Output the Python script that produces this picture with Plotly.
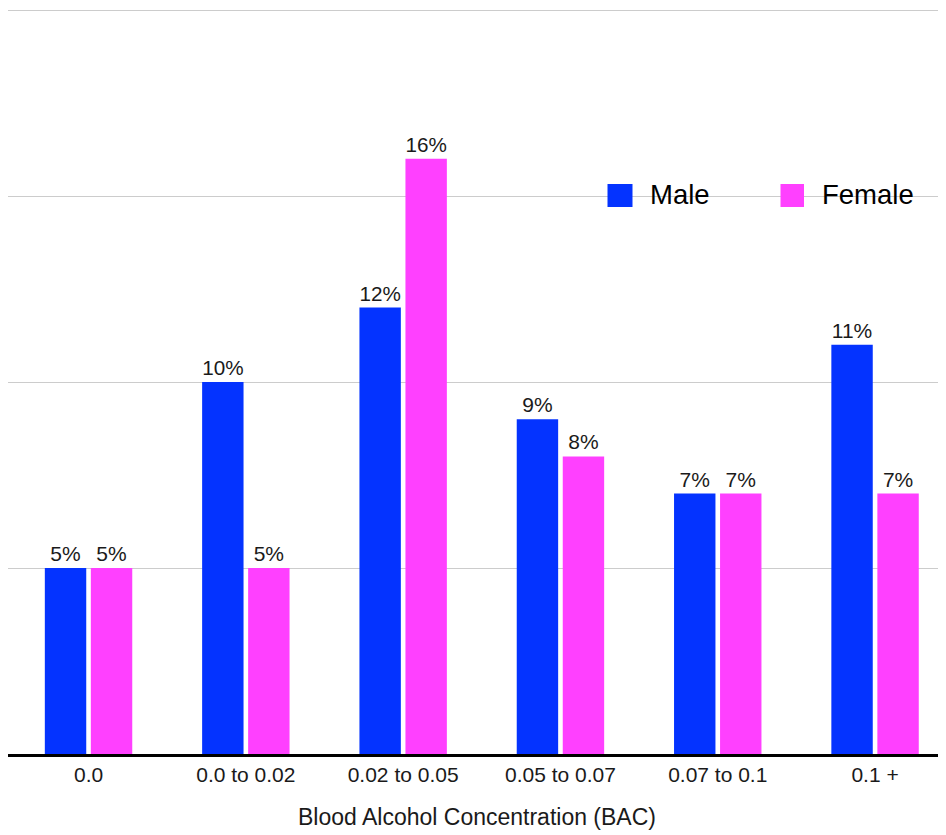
import plotly.graph_objects as go

categories = ["0.0", "0.0 to 0.02", "0.02 to 0.05", "0.05 to 0.07", "0.07 to 0.1", "0.1 +"]
series_names = ["Male", "Female"]
male = [5, 10, 12, 9, 7, 11]
female = [5, 5, 16, 8, 7, 7]
colors = ["#0433ff", "#ff40ff"]
x_title = "Blood Alcohol Concentration (BAC)"

FONT = "Liberation Sans, Arial, Helvetica, sans-serif"

fig = go.Figure()
for name, vals, col in zip(series_names, [male, female], colors):
    fig.add_trace(go.Bar(
        x=categories, y=vals, name=name,
        marker=dict(color=col, line=dict(width=0)),
        texttemplate="%{y}%", textposition="outside",
        textfont=dict(size=21, color="#1a1a1a", family=FONT),
        cliponaxis=False, showlegend=False,
    ))

# page has an 8px body margin; figure is sized to fit the window
PAGE = 8
W0, W1 = 8, 946
T0, B0 = 8, 754
def px(x):
    return (x - W0) / (W1 - W0)
def py(y):
    return (B0 - y) / (B0 - T0)

shapes = []
annotations = []
legend_pos = [(607.5, 632.5, 649), (780.5, 804, 821)]
for (x0, x1, tx), name, col in zip(legend_pos, series_names, colors):
    shapes.append(dict(type="rect", xref="paper", yref="paper",
                       x0=px(x0), x1=px(x1), y0=py(207), y1=py(184),
                       fillcolor=col, line=dict(width=0), layer="above"))
    annotations.append(dict(xref="paper", yref="paper", x=px(tx), y=py(195),
                            xanchor="left", yanchor="middle", text=name,
                            showarrow=False, borderpad=0,
                            font=dict(size=27.5, color="#000", family=FONT)))

fig.update_layout(
    width=946 - PAGE, height=835 - PAGE,
    margin=dict(l=W0 - PAGE, r=0, t=T0 - PAGE, b=835 - B0),
    paper_bgcolor="white", plot_bgcolor="white",
    barmode="group", bargap=0.415, bargroupgap=0.1,
    font=dict(family=FONT, color="#1a1a1a"),
    shapes=shapes, annotations=annotations,
    xaxis=dict(
        range=[-0.512, 5.451],
        showline=True, linecolor="black", linewidth=3,
        ticks="", showgrid=False,
        tickfont=dict(size=21, color="#1a1a1a"),
        title=dict(text=x_title, font=dict(size=23, color="#1a1a1a"), standoff=24),
    ),
    yaxis=dict(
        range=[0, 20.054], tickvals=[5, 10, 15, 20], showticklabels=False,
        showgrid=True, gridcolor="#cccccc", gridwidth=1,
        zeroline=False, ticks="",
    ),
)

fig.write_html("out.html")
